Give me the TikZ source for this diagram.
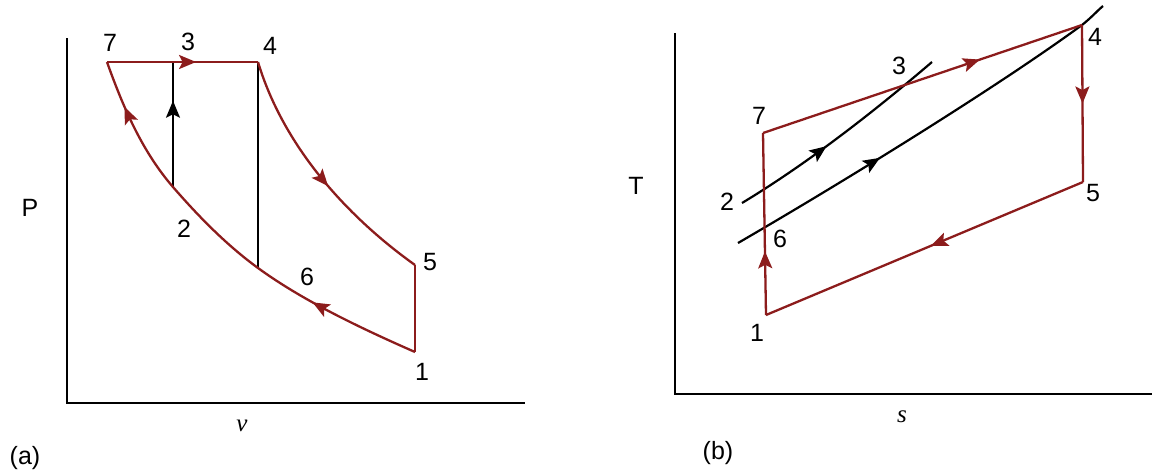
\documentclass[tikz,border=0pt]{standalone}
\usepackage{fontspec}
\setmainfont{Liberation Sans}
\newfontfamily\serifit{Liberation Serif}
\usetikzlibrary{arrows.meta,decorations.markings}
\definecolor{cyclered}{RGB}{140,28,28}

\begin{document}
\begin{tikzpicture}
  [x=1pt,y=-1pt,
  every node/.style={font=\fontsize{25}{25}\selectfont,inner sep=0pt},
  axis/.style={draw=black,line width=2.8pt,line join=miter},
  process/.style={draw=cyclered,line width=2.3pt,line join=miter},
  isoline/.style={draw=black,line width=2.2pt},
  midarrow/.style={postaction={decorate,decoration={markings,
      mark=at position #1 with {\arrow{Stealth[length=17pt,width=14pt,inset=3.5pt]}}}}}]
  \useasboundingbox (0,0) rectangle (1156,475);

  % (a) p-v diagram
  \coordinate (atop) at (67,38);
  \coordinate (aorig) at (67,403);
  \coordinate (aright) at (525,403);
  \coordinate (a1) at (415,352);
  \coordinate (a2) at (173,187);
  \coordinate (a4) at (258,62);
  \coordinate (a3) at (173,62);
  \coordinate (a5) at (415,265);
  \coordinate (a6) at (258,268);
  \coordinate (a7) at (107,62);
  \draw[axis] (atop) -- (aorig) -- (aright);
  \draw[isoline] (a4) -- (a6);
  \draw[isoline,midarrow=0.69] (a2) -- (a3);
  \draw[process,midarrow=0.59] (a7) -- (a4);
  \draw[process,midarrow=0.55] (a4) .. controls (283,145) and (345,215) .. (a5);
  \draw[process] (a5) -- (a1);
  \draw[process,midarrow=0.26,midarrow=0.89] (a1) .. controls (358,327) and (302,300) .. (a6)
    .. controls (226.5,245) and (198.6,216.5) .. (a2)
    .. controls (142,151.4) and (122.8,106.3) .. (a7);
  \node (la7) at (110,43) {7};
  \node (la3) at (188,42) {3};
  \node (la4) at (270,46) {4};
  \node (la2) at (184,229) {2};
  \node (la6) at (307,277) {6};
  \node (la5) at (430,262) {5};
  \node (la1) at (422,372) {1};
  \node (lp) at (30,208) {P};
  \node (lv) at (242,426) {\serifit\itshape v};
  \node (lpa) at (25,458) {(a)};

  % (b) T-s diagram
  \coordinate (btop) at (675,33);
  \coordinate (borig) at (675,394);
  \coordinate (bright) at (1152,394);
  \coordinate (b1) at (766,315);
  \coordinate (b7) at (763,133);
  \coordinate (b4) at (1082,25);
  \coordinate (b5) at (1083,182);
  \coordinate (b2) at (742,203);
  \coordinate (b3) at (932,62);
  \coordinate (b6) at (738,243);
  \coordinate (bend) at (1103,6);
  \draw[axis] (btop) -- (borig) -- (bright);
  \draw[isoline,midarrow=0.43] (b2) .. controls (805,165) and (870,115) .. (b3);
  \draw[isoline,midarrow=0.38] (b6) .. controls (850,178) and (1000,85) .. (b4)
    .. controls (1092,17) and (1097,11) .. (bend);
  \draw[process,midarrow=0.68] (b7) -- (b4);
  \draw[process,midarrow=0.5] (b4) -- (b5);
  \draw[process,midarrow=0.48] (b5) -- (b1);
  \draw[process,midarrow=0.35] (b1) -- (b7);
  \node (lb7) at (759,116) {7};
  \node (lb3) at (899,66) {3};
  \node (lb4) at (1095,37) {4};
  \node (lb2) at (727,202) {2};
  \node (lb6) at (780,239) {6};
  \node (lb5) at (1093,193) {5};
  \node (lb1) at (757,333) {1};
  \node (lt) at (636,186) {T};
  \node (ls) at (902,417) {\serifit\itshape s};
  \node (lpb) at (718,453) {(b)};
\end{tikzpicture}
\end{document}
